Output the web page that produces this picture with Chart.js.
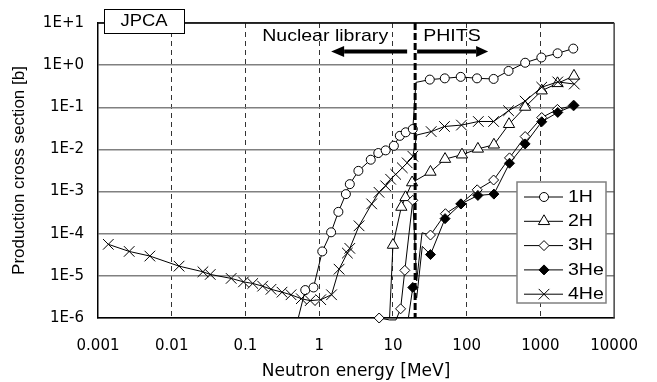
<!DOCTYPE html>
<html>
<head>
<meta charset="utf-8">
<script src="https://cdn.jsdelivr.net/npm/chart.js@4.4.1/dist/chart.umd.min.js"></script>
<style>
  html, body { margin: 0; padding: 0; background: #fff; }
</style>
</head>
<body>
<canvas id="chart" width="657" height="382"></canvas>
<script>
// 軸
const xTicks = [0.001, 0.01, 0.1, 1, 10, 100, 1000, 10000];
const yTicks = [1e-6, 1e-5, 1e-4, 1e-3, 1e-2, 1e-1, 1, 10];
const yTickLabels = ['1E-6', '1E-5', '1E-4', '1E-3', '1E-2', '1E-1', '1E+0', '1E+1'];
const boundaryE = 20; // Nuclear library / PHITS の境界 (MeV)

// 1H
const h1E = [0.52, 0.647, 0.837, 1.10, 1.45, 1.82, 2.30, 2.60, 3.40, 5.0, 6.33, 7.97, 10.3, 12.4, 14.9, 18.6,
             20.5, 31.6, 50.5, 83, 138, 232, 370, 621, 1030, 1710, 2790];
const h1V = [1e-6, 4.6e-6, 5.3e-6, 3.8e-5, 1.08e-4, 3.3e-4, 8.7e-4, 1.5e-3, 3.1e-3, 5.7e-3, 8.2e-3, 9.5e-3, 0.0122, 0.021, 0.0255, 0.0305,
             0.39, 0.454, 0.486, 0.527, 0.486, 0.471, 0.728, 1.14, 1.52, 1.91, 2.47];
const h1NoMark = [0.52, 20.5];

// 2H
const h2E = [9.0, 10.0, 13.0, 14.8, 18.2, 32.3, 50.9, 86.4, 142, 234, 375, 621, 1042, 1708, 2853];
const h2V = [1e-6, 5.4e-5, 4.3e-4, 7.3e-4, 1.64e-3, 2.92e-3, 5.9e-3, 7.5e-3, 0.0103, 0.0129, 0.0396, 0.1016, 0.248, 0.37, 0.556];
const h2NoMark = [9.0];

// 3H
const h3E = [6.5, 9.0, 11.0, 12.7, 14.5, 18.6, 21, 24.8, 32.3, 51.5, 83, 139, 232, 381, 621, 1042, 1700, 2790];
const h3V = [1e-6, 9e-7, 9e-7, 1.65e-6, 1.35e-5, 6.2e-4, 7.6e-6, 1.05e-4, 9.3e-5, 2.98e-4, 5.1e-4, 1.1e-3, 1.88e-3, 6.3e-3, 0.0202, 0.057, 0.089, 0.11];
const h3NoMark = [9.0, 11.0, 21, 24.8];

// 3He
const he3E = [16.2, 18.6, 21, 25, 32.3, 50.9, 84, 142, 234, 381, 621, 1042, 1720, 2850];
const he3V = [1e-6, 5.3e-6, 3e-6, 5e-5, 3.2e-5, 2.28e-4, 5.1e-4, 8.1e-4, 8.7e-4, 4.7e-3, 0.0135, 0.0454, 0.0756, 0.111];
const he3NoMark = [16.2, 21, 25];

// 4He
const he4E = [0.00138, 0.00265, 0.00505, 0.01257, 0.0265, 0.0333, 0.064, 0.094, 0.1256, 0.171, 0.222, 0.313, 0.415,
              0.572, 0.755, 1.05, 1.47, 1.86, 2.41, 2.6, 3.47, 5.15, 6.47, 7.97, 9.3, 10.9, 13.4, 15.6, 18.6,
              21.1, 33, 50, 85, 144, 232, 370, 621, 1042, 1720, 2880];
const he4V = [5.6e-5, 3.8e-5, 2.95e-5, 1.7e-5, 1.25e-5, 1.08e-5, 8.7e-6, 7.2e-6, 6.6e-6, 5.7e-6, 4.8e-6, 4.1e-6, 3.56e-6,
              2.87e-6, 2.58e-6, 2.72e-6, 3.56e-6, 1.44e-5, 3.47e-5, 4.5e-5, 1.54e-4, 5.1e-4, 9.6e-4, 1.37e-3, 1.96e-3, 2.56e-3, 3.67e-3, 4.8e-3, 6.9e-3,
              0.022, 0.0265, 0.035, 0.0378, 0.046, 0.046, 0.083, 0.14, 0.30, 0.40, 0.356];
const he4NoMark = [21.1];

const TXT_FONT = '"Liberation Sans", Arial, sans-serif';
const TICK_FONT = '"DejaVu Sans", sans-serif';

function pts(es, vs) {
    return es.map((e, i) => ({ x: e, y: vs[i] }));
}

function makeSet(label, es, vs, noMark, style, radius, fill, order) {
    return {
        label: label,
        data: pts(es, vs),
        borderColor: '#000',
        borderWidth: 1,
        pointStyle: style,
        pointRadius: c => (c.raw && noMark.includes(c.raw.x)) ? 0 : radius,
        pointBackgroundColor: fill,
        pointBorderColor: '#000',
        pointBorderWidth: 1,
        _radius: radius,
        tension: 0,
        fill: false,
        order: order,
        clip: { left: 10, top: 10, right: 10, bottom: 6 }
    };
}

const datasets = [
    makeSet('1H', h1E, h1V, h1NoMark, 'circle', 4.5, '#fff', 5),
    makeSet('2H', h2E, h2V, h2NoMark, 'triangle', 6.5, '#fff', 4),
    makeSet('3H', h3E, h3V, h3NoMark, 'rectRot', 5, '#fff', 3),
    makeSet('3He', he3E, he3V, he3NoMark, 'rectRot', 5, '#000', 2),
    makeSet('4He', he4E, he4V, he4NoMark, 'crossRot', 7.5, '#000', 1)
];

// 横に少し伸ばした文字
function stretchText(ctx, text, x, y, size, align) {
    ctx.save();
    ctx.font = size + 'px ' + TXT_FONT;
    ctx.textBaseline = 'middle';
    ctx.textAlign = align || 'left';
    ctx.translate(x, y);
    ctx.scale(1.15, 1);
    ctx.fillStyle = '#000';
    ctx.fillText(text, 0, 0);
    ctx.restore();
}

function arrow(ctx, x0, x1, y, headLen, headHalf, shaft) {
    const dir = Math.sign(x1 - x0);
    const base = x1 - dir * headLen;
    ctx.fillStyle = '#000';
    ctx.fillRect(Math.min(x0, base), y - shaft / 2, Math.abs(base - x0), shaft);
    ctx.beginPath();
    ctx.moveTo(x1, y);
    ctx.lineTo(base, y - headHalf);
    ctx.lineTo(base, y + headHalf);
    ctx.closePath();
    ctx.fill();
}

const decor = {
    id: 'decor',
    afterDatasetsDraw(chart) {
        const { ctx, chartArea: a, scales: { x } } = chart;
        ctx.save();
        // 上と右の枠
        ctx.lineWidth = 1.5;
        ctx.strokeStyle = '#000';
        ctx.beginPath(); ctx.moveTo(a.left, a.top); ctx.lineTo(a.right, a.top); ctx.stroke();
        ctx.strokeStyle = '#444';
        ctx.beginPath(); ctx.moveTo(a.right, a.top); ctx.lineTo(a.right, a.bottom); ctx.stroke();

        // 境界線 20 MeV
        const bx = x.getPixelForValue(boundaryE);
        ctx.strokeStyle = '#000';
        ctx.lineWidth = 3;
        ctx.setLineDash([7, 3]);
        ctx.beginPath(); ctx.moveTo(bx, a.top); ctx.lineTo(bx, a.bottom); ctx.stroke();
        ctx.setLineDash([]);

        // JPCA ラベル
        ctx.fillStyle = '#fff';
        ctx.fillRect(104, 9, 80, 24);
        ctx.strokeStyle = '#000';
        ctx.lineWidth = 1;
        ctx.strokeRect(104.5, 9.5, 80, 24);
        stretchText(ctx, 'JPCA', 144, 22, 16, 'center');

        // 注釈と矢印
        stretchText(ctx, 'Nuclear library', bx - 153, 36, 17);
        stretchText(ctx, 'PHITS', bx + 8, 36, 17);
        arrow(ctx, bx - 8, bx - 84, 51.5, 13, 5.5, 4);
        arrow(ctx, bx + 2, bx + 73, 51.5, 12, 5.5, 4);

        // 凡例
        const lx = 517, ly = 182, lw = 89, lh = 121;
        ctx.fillStyle = '#fff';
        ctx.fillRect(lx, ly, lw, lh);
        ctx.strokeStyle = '#808080';
        ctx.lineWidth = 1.5;
        ctx.strokeRect(lx, ly, lw, lh);
        chart.data.datasets.forEach((ds, i) => {
            const yy = 197 + i * 24.3;
            ctx.strokeStyle = '#000';
            ctx.lineWidth = 1;
            ctx.beginPath(); ctx.moveTo(524, yy); ctx.lineTo(563, yy); ctx.stroke();
            ctx.fillStyle = ds.pointBackgroundColor;
            ctx.strokeStyle = '#000';
            ctx.lineWidth = 1;
            Chart.helpers.drawPoint(ctx, { pointStyle: ds.pointStyle, radius: ds._radius, rotation: 0, borderWidth: 1 }, 544, yy);
            stretchText(ctx, ds.label, 568, yy, 17);
        });
        ctx.restore();
    }
};

new Chart(document.getElementById('chart'), {
    type: 'line',
    data: { datasets: datasets },
    options: {
        responsive: false,
        animation: false,
        devicePixelRatio: 1,
        layout: { padding: { left: 0, right: 41, top: 18, bottom: 0 } },
        plugins: { legend: { display: false }, tooltip: { enabled: false } },
        scales: {
            x: {
                type: 'logarithmic',
                min: 0.001,
                max: 10000,
                afterBuildTicks: s => { s.ticks = xTicks.map(v => ({ value: v })); },
                afterFit: s => { s.height = 64; },
                ticks: {
                    callback: v => String(v),
                    font: { family: TICK_FONT, size: 15 },
                    color: '#000',
                    padding: 19,
                    maxRotation: 0,
                    autoSkip: false
                },
                grid: {
                    drawTicks: false,
                    color: c => (c.tick && (c.tick.value <= 0.001 || c.tick.value >= 10000)) ? 'rgba(0,0,0,0)' : '#333',
                    lineWidth: 1
                },
                border: { display: true, color: '#000', width: 1.5, dash: [5, 4] },
                title: {
                    display: true,
                    text: 'Neutron energy [MeV]',
                    font: { family: TICK_FONT, size: 17 },
                    color: '#000',
                    padding: { top: 0, bottom: 0 }
                }
            },
            y: {
                type: 'logarithmic',
                min: 1e-6,
                max: 10,
                afterBuildTicks: s => { s.ticks = yTicks.map(v => ({ value: v })); },
                afterFit: s => { s.width = 98; },
                ticks: {
                    callback: v => yTickLabels[yTicks.indexOf(v)],
                    font: { family: TICK_FONT, size: 15 },
                    color: '#000',
                    padding: 14,
                    autoSkip: false
                },
                grid: {
                    drawTicks: false,
                    color: '#808080',
                    lineWidth: 1.5
                },
                border: { display: true, color: '#000', width: 1.5 },
                title: {
                    display: true,
                    text: 'Production cross section [b]',
                    font: { family: TXT_FONT, size: 17 },
                    color: '#000',
                    padding: { top: 9, bottom: 0 }
                }
            }
        }
    },
    plugins: [decor]
});
</script>
</body>
</html>
